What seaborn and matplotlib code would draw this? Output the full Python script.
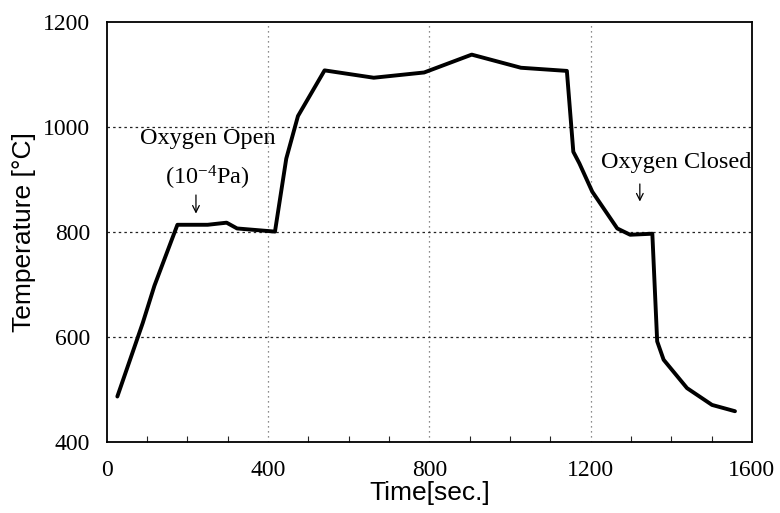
import matplotlib
matplotlib.use("Agg")
import matplotlib.pyplot as plt
import seaborn as sns
import pandas as pd
from matplotlib.ticker import MultipleLocator

time_s = [26, 89, 118, 175, 250, 297, 323, 417, 445, 474, 540, 662, 787, 905,
          1027, 1141, 1157, 1172, 1204, 1266, 1298, 1353, 1365, 1381, 1439, 1501, 1558]
temp_c = [487, 627, 698, 814, 814, 818, 807, 801, 940, 1021, 1108, 1094, 1104, 1138,
          1113, 1107, 953, 931, 877, 807, 795, 797, 592, 557, 503, 471, 459]

x_ticks = [0, 400, 800, 1200, 1600]
y_ticks = [400, 600, 800, 1000, 1200]

df = pd.DataFrame({"time": time_s, "temp": temp_c})

sns.set_theme(style="white")
plt.rcParams["mathtext.fontset"] = "custom"
plt.rcParams["mathtext.rm"] = "Liberation Serif"
plt.rcParams["mathtext.it"] = "Liberation Serif"
plt.rcParams["text.color"] = "black"
plt.rcParams["axes.labelcolor"] = "black"

fig = plt.figure(figsize=(7.8, 5.13), dpi=100)
ax = fig.add_axes([0.137, 0.138, 0.827, 0.819])

sns.lineplot(data=df, x="time", y="temp", sort=False, color="black", linewidth=2.8, ax=ax)

ax.set_xlim(0, 1600)
ax.set_ylim(400, 1200)
ax.set_xticks(x_ticks)
ax.set_yticks(y_ticks)
ax.xaxis.set_minor_locator(MultipleLocator(100))

for v in [400, 800, 1200]:
    ax.axvline(v, color="#666666", linestyle=(0, (1, 3)), linewidth=0.9, zorder=0)
for v in [600, 800, 1000]:
    ax.axhline(v, color="#222222", linestyle=(0, (2, 2.5)), linewidth=0.9, zorder=0)

ax.tick_params(axis="both", which="major", direction="in", length=8, width=1.0,
               colors="black", labelsize=17)
ax.tick_params(axis="x", which="major", pad=13)
ax.tick_params(axis="y", which="major", pad=12)
ax.tick_params(axis="x", which="minor", direction="in", length=4, width=0.8, bottom=True)
ax.tick_params(axis="y", which="minor", left=False)
ax.tick_params(top=False, right=False)
for lab in ax.get_xticklabels() + ax.get_yticklabels():
    lab.set_fontfamily("Liberation Serif")

for sp in ax.spines.values():
    sp.set_color("black")
    sp.set_linewidth(1.3)

ax.set_xlabel("Time[sec.]", fontsize=19, fontfamily="Liberation Sans", labelpad=0, color="black")
ax.set_ylabel("Temperature [°C]", fontsize=19, fontfamily="Liberation Sans", labelpad=5, color="black")

ax.text(250, 979, "Oxygen Open", ha="center", va="center", fontsize=17.5,
        fontfamily="Liberation Serif", color="black")
ax.text(250, 903, r"(10$^{\mathregular{-4}}$Pa)", ha="center", va="center", fontsize=17.5,
        fontfamily="Liberation Serif", color="black")
ax.annotate("", xy=(221, 830), xytext=(221, 876),
            arrowprops=dict(arrowstyle="->", color="black", lw=0.9))

ax.text(1411, 933, "Oxygen Closed", ha="center", va="center", fontsize=17.5,
        fontfamily="Liberation Serif", color="black")
ax.annotate("", xy=(1322, 853), xytext=(1322, 897),
            arrowprops=dict(arrowstyle="->", color="black", lw=0.9))

fig.savefig("out.png", dpi=100)
